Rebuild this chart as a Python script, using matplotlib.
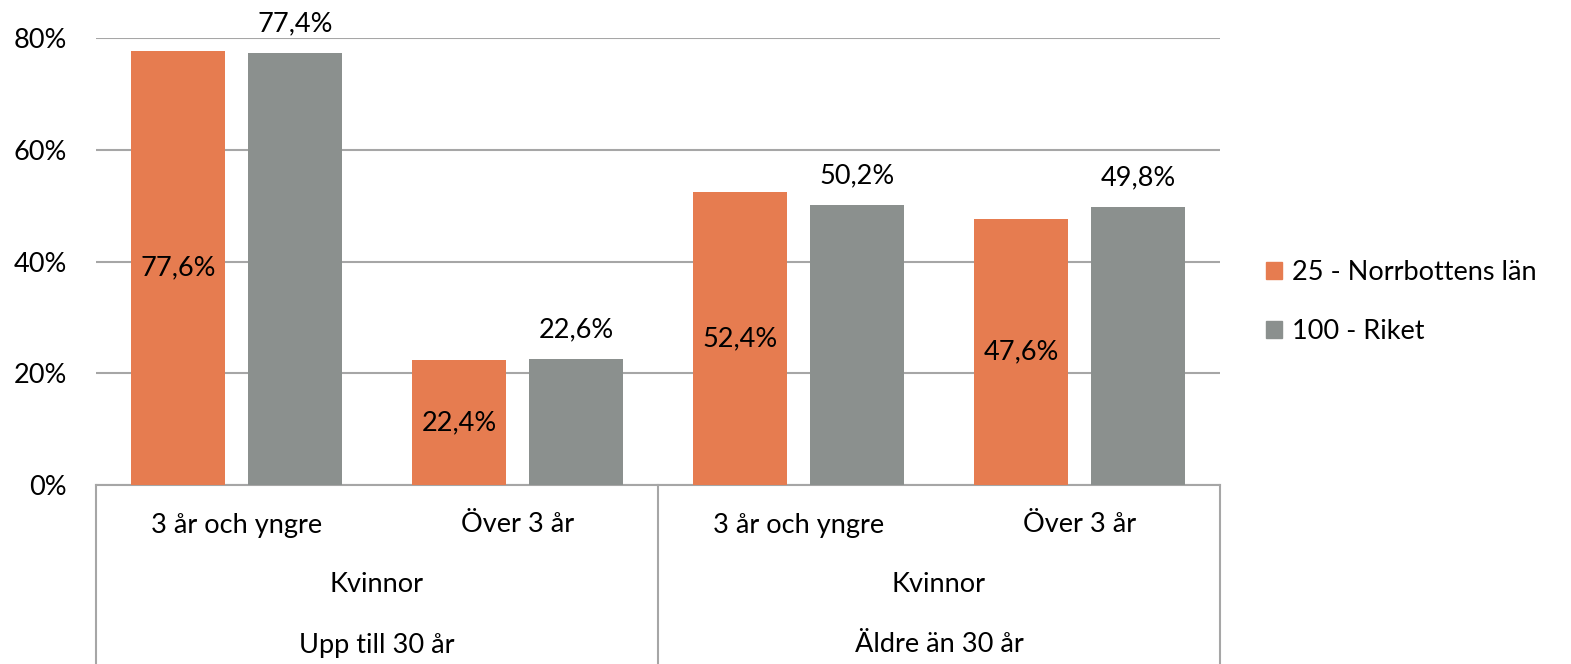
import numpy as np
import matplotlib
matplotlib.use("Agg")
import matplotlib.pyplot as plt
from matplotlib.patches import Patch

# data
categories = ["3 år och yngre", "Över 3 år", "3 år och yngre", "Över 3 år"]
mid_labels = ["Kvinnor", "Kvinnor"]
top_labels = ["Upp till 30 år", "Äldre än 30 år"]
norrbotten = [77.6, 22.4, 52.4, 47.6]
riket = [77.4, 22.6, 50.2, 49.8]
series_names = ["25 - Norrbottens län", "100 - Riket"]

ORANGE = "#E67C50"
GRAY = "#8B908E"
GRID = "#A6A6A6"

plt.rcParams["font.family"] = ["Lato", "DejaVu Sans"]
plt.rcParams["font.size"] = 19.5

W, H = 1571, 664
fig = plt.figure(figsize=(W / 100, H / 100), dpi=100)
x0, x1 = 96, 1220
y_top, y_bot = 38, 485
ax = fig.add_axes([x0 / W, 1 - y_bot / H, (x1 - x0) / W, (y_bot - y_top) / H])

x = np.arange(len(categories))
bw = 0.335
off = 0.208
ax.bar(x - off, norrbotten, bw, color=ORANGE, zorder=3)
ax.bar(x + off, riket, bw, color=GRAY, zorder=3)

# orange labels inside bars, gray labels above
for xi, v in zip(x, norrbotten):
    ax.text(xi - off, v / 2, f"{v:.1f}%".replace(".", ","), ha="center", va="center", zorder=4)
for xi, v in zip(x, riket):
    ax.annotate(f"{v:.1f}%".replace(".", ","), (xi + off, v), xytext=(0, 12),
                textcoords="offset points", ha="center", va="bottom")

ax.set_xlim(-0.5, 3.5)
ax.set_ylim(0, 80)
ax.set_yticks([0, 20, 40, 60, 80])
ax.set_yticklabels([f"{t}%" for t in [0, 20, 40, 60, 80]])
ax.yaxis.grid(True, color=GRID, linewidth=1.5, zorder=0)
ax.tick_params(axis="y", length=0, pad=21)
ax.tick_params(axis="x", length=0, labelbottom=False)
for s in ["left", "right", "top"]:
    ax.spines[s].set_visible(False)
ax.spines["bottom"].set_color(GRID)
ax.spines["bottom"].set_linewidth(1.5)

# multi-level category axis
trans = ax.get_xaxis_transform()
depth = (H - y_bot) / (y_bot - y_top)
for xv in [-0.5, 1.5, 3.5]:
    ax.plot([xv, xv], [0, -depth - 0.01], transform=trans, color=GRID, lw=1.5, clip_on=False)

row1 = -(525 - y_bot) / (y_bot - y_top)
row2 = -(585 - y_bot) / (y_bot - y_top)
row3 = -(645 - y_bot) / (y_bot - y_top)
for xi, lab in zip(x, categories):
    ax.text(xi, row1, lab, transform=trans, ha="center", va="center")
for i, (m, t) in enumerate(zip(mid_labels, top_labels)):
    ax.text(2 * i + 0.5, row2, m, transform=trans, ha="center", va="center")
    ax.text(2 * i + 0.5, row3, t, transform=trans, ha="center", va="center")

handles = [Patch(color=ORANGE), Patch(color=GRAY)]
fig.legend(handles, series_names, loc="center left", bbox_to_anchor=(1266 / W, 1 - 302 / H),
           frameon=False, handlelength=0.6, handleheight=0.6, handletextpad=0.35,
           labelspacing=1.25, fontsize=19.5, borderpad=0, borderaxespad=0)

fig.savefig("out.png", dpi=100)
